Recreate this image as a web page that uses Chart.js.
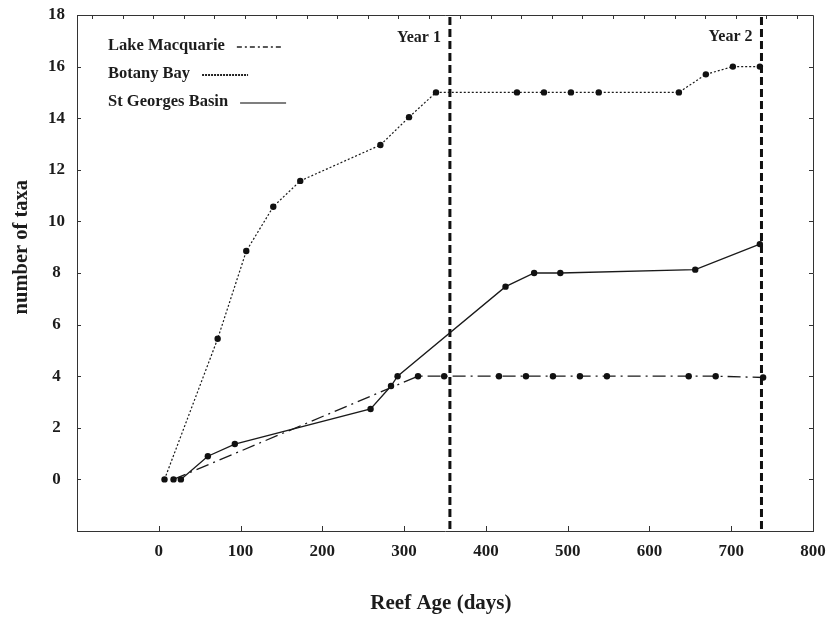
<!DOCTYPE html>
<html><head><meta charset="utf-8">
<script src="https://cdn.jsdelivr.net/npm/chart.js@4.4.1/dist/chart.umd.min.js"></script>
<style>html,body{margin:0;padding:0;background:#fff}#wrap{width:831px;height:617px;position:relative}</style>
</head><body><div id="wrap"><canvas id="c"></canvas></div>
<script>
const seriesNames = ['Lake Macquarie', 'Botany Bay', 'St Georges Basin'];
const lakeDays = [18, 317, 349, 416, 449, 482, 515, 548, 648, 681, 739];
const lakeTaxa = [0, 4, 4, 4, 4, 4, 4, 4, 4, 4, 3.95];
const botanyDays = [7, 72, 107, 140, 173, 271, 306, 339, 438, 471, 504, 538, 636, 669, 702, 735];
const botanyTaxa = [0, 5.45, 8.85, 10.57, 11.57, 12.96, 14.04, 15, 15, 15, 15, 15, 15, 15.7, 16, 16];
const georgesDays = [27, 60, 93, 259, 284, 292, 424, 459, 491, 656, 735];
const georgesTaxa = [0, 0.9, 1.37, 2.73, 3.62, 4.0, 7.47, 8.0, 8.0, 8.13, 9.12];
const yearDays = [356, 737];
const yearLabels = ['Year 1', 'Year 2'];
const xTickValues = [0, 100, 200, 300, 400, 500, 600, 700, 800];
const yTickValues = [0, 2, 4, 6, 8, 10, 12, 14, 16, 18];
const topTickDays = [-82, -44, -7, 31, 68, 106, 143, 181, 218, 256, 293, 331, 368, 406, 443, 481, 518, 556, 593, 631, 668, 706, 743, 781];
const xTitle = 'Reef Age (days)';
const yTitle = 'number of taxa';

const FONT = "'Liberation Serif', 'Times New Roman', serif";
const INK = '#1c1c1c';

function pts(xs, ys) { return xs.map((x, i) => ({x: x, y: ys[i]})); }

const lineStyles = [
  {dash: [13, 5, 2, 5], width: 1.3, legendDash: [5, 3, 2, 3]},
  {dash: [2, 2], width: 1.2, legendDash: [2, 1]},
  {dash: [], width: 1.3, legendDash: []}
];

const decor = {
  id: 'decor',
  beforeDatasetsDraw(chart) {
    const {ctx, chartArea: a, scales: {x}} = chart;
    ctx.save();
    ctx.strokeStyle = '#111';
    ctx.lineWidth = 3;
    ctx.setLineDash([8, 4]);
    yearDays.forEach(d => {
      const px = x.getPixelForValue(d);
      ctx.beginPath(); ctx.moveTo(px, a.top + 2); ctx.lineTo(px, a.bottom); ctx.stroke();
    });
    ctx.restore();
  },
  afterDraw(chart) {
    const {ctx, chartArea: a, scales: {x, y}} = chart;
    ctx.save();
    ctx.strokeStyle = '#333'; ctx.lineWidth = 1; ctx.setLineDash([]);
    ctx.beginPath();
    ctx.moveTo(a.left, a.top + 0.5); ctx.lineTo(a.right + 0.5, a.top + 0.5); ctx.lineTo(a.right + 0.5, a.bottom);
    ctx.stroke();
    ctx.beginPath();
    xTickValues.forEach(v => { const px = Math.round(x.getPixelForValue(v)) + 0.5; ctx.moveTo(px, a.bottom); ctx.lineTo(px, a.bottom - 5); });
    topTickDays.forEach(v => { const px = Math.round(x.getPixelForValue(v)) + 0.5; ctx.moveTo(px, a.top); ctx.lineTo(px, a.top + 4); });
    yTickValues.forEach(v => {
      const py = Math.round(y.getPixelForValue(v)) + 0.5;
      ctx.moveTo(a.left, py); ctx.lineTo(a.left + 4, py);
      ctx.moveTo(a.right, py); ctx.lineTo(a.right - 4, py);
    });
    ctx.stroke();
    ctx.fillStyle = INK;
    ctx.font = 'bold 16px ' + FONT;
    ctx.textAlign = 'right'; ctx.textBaseline = 'middle';
    yearLabels.forEach((t, i) => {
      const px = x.getPixelForValue(yearDays[i]);
      ctx.fillText(t, px - 9, a.top + 23 - i);
    });
    // axis titles
    ctx.font = 'bold 21px ' + FONT;
    ctx.textAlign = 'center';
    ctx.fillText(xTitle, x.getPixelForValue(345), 604);
    ctx.save();
    ctx.font = 'bold 20.5px ' + FONT;
    ctx.translate(22, y.getPixelForValue(9));
    ctx.rotate(-Math.PI / 2);
    ctx.fillText(yTitle, 0, 0);
    ctx.restore();
    // legend
    ctx.font = 'bold 16.5px ' + FONT;
    ctx.textAlign = 'left'; ctx.textBaseline = 'middle';
    const lx = 108, ly = [46, 74, 102];
    seriesNames.forEach((n, i) => {
      ctx.fillStyle = INK;
      ctx.fillText(n, lx, ly[i]);
      const w = ctx.measureText(n).width;
      ctx.strokeStyle = i === 2 ? '#555' : '#222';
      ctx.lineWidth = i === 1 ? 2 : 1.3;
      ctx.setLineDash(lineStyles[i].legendDash);
      ctx.beginPath(); ctx.moveTo(lx + w + 12, ly[i] + 1); ctx.lineTo(lx + w + 58, ly[i] + 1); ctx.stroke();
    });
    ctx.restore();
  }
};

const ds = [[lakeDays, lakeTaxa], [botanyDays, botanyTaxa], [georgesDays, georgesTaxa]].map((s, i) => ({
  label: seriesNames[i],
  data: pts(s[0], s[1]),
  showLine: true,
  borderColor: '#1a1a1a',
  borderWidth: lineStyles[i].width,
  borderDash: lineStyles[i].dash,
  pointRadius: 3.2,
  pointBackgroundColor: '#111',
  pointBorderColor: '#111',
  pointBorderWidth: 0,
  tension: 0
}));

new Chart(document.getElementById('c'), {
  type: 'scatter',
  data: {datasets: ds},
  options: {
    responsive: true,
    maintainAspectRatio: false,
    animation: false,
    layout: {padding: {top: 15, right: 18, left: 0, bottom: 0}},
    plugins: {legend: {display: false}, tooltip: {enabled: false}},
    scales: {
      x: {
        type: 'linear', min: -100, max: 800,
        afterBuildTicks: s => { s.ticks = [-100].concat(xTickValues).map(v => ({value: v})); },
        ticks: {
          color: INK, padding: 10, maxRotation: 0, autoSkip: false,
          font: {family: FONT, size: 17, weight: 'bold'},
          callback: v => v < 0 ? '' : String(v)
        },
        grid: {display: false, drawTicks: false},
        border: {display: true, color: '#333', width: 1},
        title: {display: false},
        afterFit: s => { s.height = 86; s.paddingLeft = 0; s.paddingRight = 0; }
      },
      y: {
        type: 'linear', min: -2, max: 18,
        afterBuildTicks: s => { s.ticks = [-2].concat(yTickValues).map(v => ({value: v})); },
        ticks: {
          color: INK, padding: 12, crossAlign: 'center', autoSkip: false,
          font: {family: FONT, size: 17, weight: 'bold'},
          callback: v => v < 0 ? '' : String(v)
        },
        grid: {display: false, drawTicks: false},
        border: {display: true, color: '#333', width: 1},
        title: {display: false},
        afterFit: s => { s.width = 77; s.paddingTop = 0; s.paddingBottom = 0; }
      }
    }
  },
  plugins: [decor]
});
</script>
</body></html>
